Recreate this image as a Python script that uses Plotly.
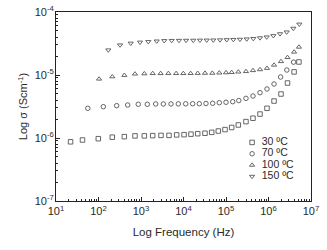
import plotly.graph_objects as go

# ---- data (frequency in Hz, conductivity in S/cm) ----
f_30 = [22, 42, 99, 211, 405, 722, 1197, 1885, 2955, 4560, 6920, 10300, 15000, 21600,
        32000, 46100, 65900, 94700, 136000, 195000, 295000, 431000, 631000, 922000,
        1.35e6, 1.97e6, 2.8e6, 4.0e6, 5.2e6]
s_30 = [8.7e-7, 9.3e-7, 9.75e-7, 1.03e-6, 1.05e-6, 1.08e-6, 1.08e-6, 1.09e-6, 1.10e-6,
        1.10e-6, 1.12e-6, 1.13e-6, 1.15e-6, 1.17e-6, 1.19e-6, 1.23e-6, 1.29e-6, 1.36e-6,
        1.47e-6, 1.61e-6, 1.82e-6, 2.06e-6, 2.40e-6, 2.96e-6, 3.86e-6, 4.99e-6, 7.46e-6,
        1.12e-5, 1.61e-5]

f_70 = [56, 130, 268, 486, 863, 1406, 2218, 3350, 5080, 7550, 11270, 16400, 23500,
        33800, 48600, 69500, 100000, 144000, 200000, 295000, 431000, 631000, 922000,
        1.35e6, 1.93e6, 2.7e6, 3.9e6]
s_70 = [2.96e-6, 3.14e-6, 3.26e-6, 3.34e-6, 3.43e-6, 3.43e-6, 3.47e-6, 3.47e-6, 3.47e-6,
        3.48e-6, 3.49e-6, 3.5e-6, 3.5e-6, 3.53e-6, 3.56e-6, 3.63e-6, 3.69e-6, 3.77e-6,
        3.93e-6, 4.26e-6, 4.64e-6, 5.24e-6, 6.0e-6, 7.2e-6, 9.3e-6, 1.2e-5, 1.6e-5]

f_100 = [103, 211, 405, 722, 1197, 1885, 2900, 4400, 6700, 9900, 14700, 21600, 32000,
         47600, 69500, 100000, 136000, 195000, 295000, 431000, 631000, 922000, 1.35e6,
         1.97e6, 2.8e6, 4.0e6, 5.2e6]
s_100 = [8.65e-6, 9.4e-6, 9.9e-6, 1.04e-5, 1.05e-5, 1.06e-5, 1.06e-5, 1.06e-5, 1.06e-5,
         1.06e-5, 1.06e-5, 1.065e-5, 1.07e-5, 1.07e-5, 1.08e-5, 1.09e-5, 1.10e-5, 1.12e-5,
         1.14e-5, 1.18e-5, 1.22e-5, 1.28e-5, 1.44e-5, 1.64e-5, 1.9e-5, 2.32e-5, 2.78e-5]

f_150 = [170, 321, 573, 946, 1486, 2340, 3530, 5270, 7830, 11500, 17000, 24400, 35100,
         50200, 72200, 104000, 149000, 213000, 307000, 439000, 631000, 907000, 1.30e6,
         1.87e6, 2.68e6, 3.84e6, 5.31e6]
s_150 = [2.49e-5, 2.99e-5, 3.19e-5, 3.31e-5, 3.38e-5, 3.45e-5, 3.5e-5, 3.52e-5, 3.53e-5,
         3.54e-5, 3.55e-5, 3.56e-5, 3.57e-5, 3.58e-5, 3.6e-5, 3.62e-5, 3.65e-5, 3.68e-5,
         3.72e-5, 3.78e-5, 3.88e-5, 4.0e-5, 4.2e-5, 4.5e-5, 4.8e-5, 5.5e-5, 6.4e-5]

labels = ["30 ºC", "70 ºC", "100 ºC", "150 ºC"]
symbols = ["square-open", "circle-open", "triangle-up-open", "triangle-down-open"]
series = [(f_30, s_30), (f_70, s_70), (f_100, s_100), (f_150, s_150)]

x_exponents = [1, 2, 3, 4, 5, 6, 7]
y_exponents = [-7, -6, -5, -4]

MARK = "#555555"
TXT = "#2a2a2a"
FONT = "Liberation Sans, Arial, sans-serif"

fig = go.Figure()
for (fx, sy), sym, lab in zip(series, symbols, labels):
    fig.add_trace(go.Scatter(
        x=fx, y=sy, mode="markers", name=lab, showlegend=False,
        marker=dict(symbol=sym, size=4.5, color=MARK, line=dict(width=0.9, color=MARK)),
    ))

# legend drawn as a small inset trace
fig.add_trace(go.Scatter(
    x=[0] * 4, y=list(range(4))[::-1], mode="markers+text",
    text=["  " + t for t in labels], textposition="middle right",
    textfont=dict(family=FONT, size=10.5, color=TXT),
    marker=dict(symbol=symbols, size=4.5, color=MARK, line=dict(width=0.9, color=MARK)),
    xaxis="x2", yaxis="y2", showlegend=False, cliponaxis=False,
))

minor_x = [m * 10 ** e for e in x_exponents[:-1] for m in range(2, 10)]
minor_y = [m * 10.0 ** e for e in y_exponents[:-1] for m in range(2, 10)]

common = dict(
    type="log", showline=True, linecolor="#222", linewidth=1, mirror=True,
    ticks="inside", ticklen=4, tickcolor="#222", showgrid=False, zeroline=False,
    tickfont=dict(size=11, color=TXT), automargin=False,
)

fig.update_layout(
    width=327, height=250,
    margin=dict(l=56, r=16, t=12, b=49, autoexpand=False),
    paper_bgcolor="white", plot_bgcolor="white",
    font=dict(family=FONT, size=10, color=TXT),
    xaxis=dict(
        **common, range=[1, 7],
        tickvals=[10 ** e for e in x_exponents],
        ticktext=[f"10<sup>{e}</sup>" for e in x_exponents],
        minor=dict(ticks="inside", ticklen=2, tickcolor="#222", tickvals=minor_x, showgrid=False),
        title=dict(text="Log Frequency (Hz)", font=dict(size=11.5), standoff=11),
        ticklabelstandoff=0,
    ),
    yaxis=dict(
        **common, range=[-7, -4],
        tickvals=[10.0 ** e for e in y_exponents],
        ticktext=[f"10<sup>{e}</sup>" for e in y_exponents],
        minor=dict(ticks="inside", ticklen=2, tickcolor="#222", tickvals=minor_y, showgrid=False),
        title=dict(text="Log σ (Scm<sup>-1</sup>)", font=dict(size=11), standoff=4),
        ticklabelstandoff=-1,
    ),
    xaxis2=dict(domain=[0.769, 0.95], range=[0, 3], visible=False, fixedrange=True,
                anchor="y2"),
    yaxis2=dict(domain=[0.13, 0.31], range=[0, 3], visible=False, fixedrange=True,
                anchor="x2"),
)

fig.write_html(
    "out.html",
    config={"displayModeBar": False, "staticPlot": True},
    post_script="document.body.style.margin='0';document.body.style.overflow='hidden';",
)
